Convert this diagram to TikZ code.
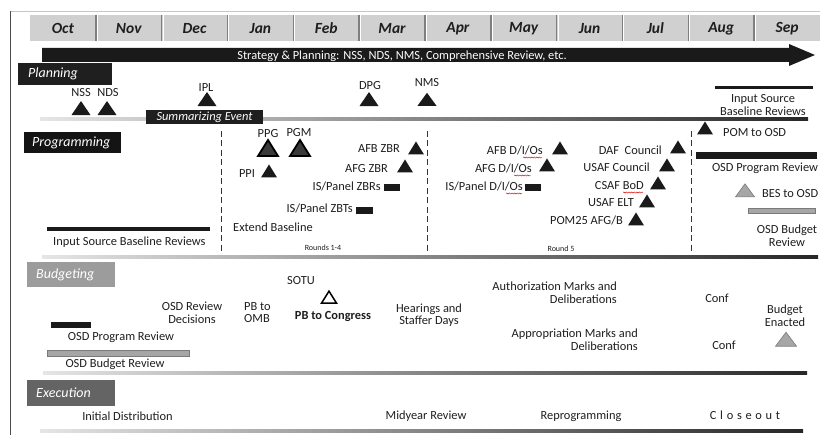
\documentclass[tikz,border=0pt]{standalone}
\usepackage{fontspec}
\setmainfont{Carlito}
\usetikzlibrary{shapes.geometric,decorations.pathmorphing}

\definecolor{monthfill}{HTML}{D0D0D0}
\definecolor{monthsep}{HTML}{7F7F7F}
\definecolor{inkblack}{HTML}{1A1A1A}
\definecolor{budgetgray}{HTML}{9C9C9C}
\definecolor{execgray}{HTML}{646464}
\definecolor{lightmark}{HTML}{A6A6A6}
\definecolor{markedge}{HTML}{7A7A7A}
\definecolor{deepgray}{HTML}{3A3A3A}
\definecolor{textgray}{HTML}{1E1E1E}

\newcommand\lblsize{\fontsize{12.4}{12.6}\selectfont}
\newcommand\smallsize{\fontsize{8}{9}\selectfont}

\begin{document}
\begin{tikzpicture}[x=1pt,y=-1pt,
  lbl/.style={font=\lblsize, text=textgray, inner sep=0},
  lbl2/.style={lbl, align=center},
  month/.style={font=\fontsize{15.5}{16}\selectfont\bfseries\itshape, inner sep=0, text=textgray},
  secbox/.style={anchor=north west, text=white, font=\fontsize{14}{15}\selectfont\itshape,
                 align=left, inner ysep=0},
  tri/.style={isosceles triangle, isosceles triangle stretches, shape border rotate=90,
              fill=inkblack, inner sep=0, minimum width=16, minimum height=13},
  bigtri/.style={tri, fill=deepgray, draw=black, line width=1.8pt, minimum width=20, minimum height=16},
  greytri/.style={tri, fill=lightmark, draw=markedge, line width=0.6pt},
  opentri/.style={tri, fill=white, draw=black, line width=1.5pt, minimum width=15, minimum height=12},
  blk/.style={fill=inkblack, inner sep=0},
  graybar/.style={fill=lightmark, draw=markedge, line width=0.6pt},
  divider/.style={left color=gray!20, right color=black!85},
  roundsep/.style={draw=black!80, line width=0.7pt, dash pattern=on 6pt off 3.5pt},
  squig/.style={red!85!black, line width=0.45pt, decorate,
                decoration={snake, amplitude=0.55pt, segment length=2.6pt}}
]
\useasboundingbox (0,0) rectangle (820,435);

% outer frame
\draw[gray!45, line width=0.8pt] (10,11) -- (820,11);
\draw[black!70, line width=0.8pt] (10,11) -- (10,435);

% month header
\fill[monthfill] (30,15) rectangle (820,41);
\foreach \i in {1,...,11} {
  \draw[monthsep, line width=1.4pt] ({30+65.83*\i},15) -- ++(0,26);
  \draw[white, line width=0.8pt] ({31.3+65.83*\i},15) -- ++(0,26);
}
\foreach \m [count=\i from 0] in {Oct,Nov,Dec,Jan,Feb,Mar,Apr,May,Jun,Jul,Aug,Sep}
  \node[month] (m\i) at ({30+65.83*(\i+0.5)},28.5) {\m};

% strategy arrow
\fill[inkblack] (42,48) -- (789,48) -- (789,44) -- (815,55) -- (789,66) -- (789,62) -- (42,62) -- cycle;
\node[lbl, text=white, anchor=base] (strategy) at (402,59.5)
  {Strategy \& Planning: NSS, NDS, NMS, Comprehensive Review, etc.};

% ---------------- Planning ----------------
\node[secbox, fill=black!88, minimum width=94, minimum height=22, text width=74, inner xsep=10]
  (planning) at (18,63) {Planning};

\node[lbl, anchor=base] (nssL) at (81,97) {NSS};
\node[tri, minimum width=19, minimum height=14] (nss) at (81,110) {};
\node[lbl, anchor=base] (ndsL) at (108,97) {NDS};
\node[tri, minimum width=19, minimum height=14] (nds) at (107,110) {};
\node[lbl, anchor=base] (iplL) at (206,92) {IPL};
\node[tri, minimum width=19, minimum height=14] (ipl) at (207,101) {};
\node[lbl, anchor=base] (dpgL) at (370,90) {DPG};
\node[tri, minimum width=19, minimum height=14] (dpg) at (369,101) {};
\node[lbl, anchor=base] (nmsL) at (427,87) {NMS};
\node[tri, minimum width=19, minimum height=13] (nms) at (427,101) {};

\draw[inkblack, line width=3pt] (715,88) -- (813,88);
\node[lbl2] (isbrTop) at (763,105) {Input Source\\Baseline Reviews};

\shade[divider] (40,118) rectangle (808,121);
\node[fill=black!88, text=white, font=\fontsize{12.4}{13}\selectfont\itshape,
      minimum width=117, minimum height=14, inner sep=0] (summ) at (204.5,117) {Summarizing Event};

% ---------------- Programming ----------------
\node[secbox, fill=black!92, minimum width=97, minimum height=21, text width=81, inner xsep=8]
  (programming) at (24,132) {Programming};

\draw[roundsep] (221,131) -- (221,253);
\draw[roundsep] (427,131) -- (427,253);
\draw[roundsep] (691,131) -- (691,253);

% rounds 1-4
\node[lbl, anchor=base] (ppgL) at (268,138) {PPG};
\node[lbl, anchor=base] (pgmL) at (299,137) {PGM};
\node[bigtri] (ppg) at (268,150.5) {};
\node[bigtri] (pgm) at (300,150.5) {};
\node[lbl, anchor=base] (ppiL) at (247,178) {PPI};
\node[tri] (ppi) at (269,173) {};
\node[lbl, anchor=base east] (afbzL) at (400,153) {AFB ZBR};
\node[tri] (afbz) at (416,150) {};
\node[lbl, anchor=base east] (afgzL) at (388,173) {AFG ZBR};
\node[tri] (afgz) at (405,168) {};
\node[lbl, anchor=base east] (iszbrL) at (381,191) {IS/Panel ZBRs};
\node[blk, minimum width=16, minimum height=7] (iszbr) at (391.5,187.5) {};
\node[lbl, anchor=base east] (iszbtL) at (353,213) {IS/Panel ZBTs};
\node[blk, minimum width=17, minimum height=7] (iszbt) at (364,210.5) {};
\node[lbl, anchor=base west] (extL) at (233,232) {Extend Baseline};
\node[font=\smallsize, inner sep=0, text=textgray, anchor=base] (r14) at (323,251) {Rounds 1-4};

\draw[inkblack, line width=4pt] (47,229.5) -- (210,229.5);
\node[lbl, anchor=base west] (isbrL) at (53,246) {Input Source Baseline Reviews};

% round 5
\node[lbl, anchor=base east] (afbdL) at (543,155) {AFB D/I/Os};
\node[tri] (afbd) at (560,150) {};
\node[lbl, anchor=base east] (afgdL) at (532,173) {AFG D/I/Os};
\node[tri] (afgd) at (547,167) {};
\node[lbl, anchor=base east] (isdL) at (523,191) {IS/Panel D/I/Os};
\node[blk, minimum width=16, minimum height=7] (isd) at (533,187.5) {};
\node[lbl, anchor=base east] (dafL) at (662,155) {DAF\ \ Council};
\node[tri] (daf) at (678,149) {};
\node[lbl, anchor=base east] (usafcL) at (650,172) {USAF Council};
\node[tri] (usafc) at (667,167) {};
\node[lbl, anchor=base east] (csafL) at (644,190) {CSAF BoD};
\node[tri] (csaf) at (658,185) {};
\node[lbl, anchor=base east] (eltL) at (634,207) {USAF ELT};
\node[tri] (elt) at (647,203) {};
\node[lbl, anchor=base east] (pom25L) at (623,225) {POM25 AFG/B};
\node[tri] (pom25) at (636,221) {};
\node[font=\smallsize, inner sep=0, text=textgray, anchor=base] (r5) at (561,252) {Round 5};

% spelling marks under words
\draw[squig] (523,157.5) -- (542,157.5);
\draw[squig] (514,175.5) -- (531,175.5);
\draw[squig] (506,193.5) -- (522,193.5);
\draw[squig] (623,192.5) -- (643,192.5);

% after round 5
\node[tri] (pomosd) at (705,130) {};
\node[lbl, anchor=base west] (pomosdL) at (723,137) {POM to OSD};
\fill[inkblack] (696,152) rectangle (817,159);
\node[lbl, anchor=base] (opr1) at (765,172) {OSD Program Review};
\node[greytri, minimum width=19, minimum height=13] (bes) at (745,192) {};
\node[lbl, anchor=base west] (besL) at (762,198) {BES to OSD};
\path[graybar] (748,208) rectangle (815,213);
\node[lbl2] (obr1) at (787,235.5) {OSD Budget\\Review};

\shade[divider] (42,255.5) rectangle (818,258.5);

% ---------------- Budgeting ----------------
\node[secbox, fill=budgetgray, minimum width=88, minimum height=25, text width=70, inner xsep=9]
  (budgeting) at (27,262) {Budgeting};

\node[lbl, anchor=base] (sotu) at (301,285) {SOTU};
\node[opentri] (pbc) at (329,299) {};
\node[lbl, anchor=base, font=\lblsize\bfseries] (pbcL) at (333,320) {PB to Congress};
\node[lbl2] (osdrd) at (192,312.5) {OSD Review\\Decisions};
\node[lbl, align=left, anchor=west] (pbomb) at (244,312.5) {PB to\\OMB};
\node[lbl2] (hear) at (429,315) {Hearings and\\Staffer Days};
\node[lbl, align=right, anchor=east] (auth) at (617,293) {Authorization Marks and\\Deliberations};
\node[lbl, align=right, anchor=east] (approp) at (638,339.5) {Appropriation Marks and\\Deliberations};
\node[lbl, anchor=base] (conf1) at (717,303) {Conf};
\node[lbl, anchor=base] (conf2) at (724,350) {Conf};
\node[lbl2] (enact) at (785,316) {Budget\\Enacted};
\node[greytri, minimum width=21, minimum height=14] (enactT) at (786,341) {};

\fill[inkblack] (51,322) rectangle (91,328);
\node[lbl, anchor=base] (opr2) at (121,341) {OSD Program Review};
\path[graybar] (47,350) rectangle (189,356);
\node[lbl, anchor=base] (obr2) at (115,368) {OSD Budget Review};

\shade[divider] (43,371.5) rectangle (807,374.5);

% ---------------- Execution ----------------
\node[secbox, fill=execgray, minimum width=88, minimum height=26, text width=70, inner xsep=9]
  (execution) at (27,380) {Execution};

\node[lbl, anchor=base] (initd) at (127.5,421) {Initial Distribution};
\node[lbl, anchor=base] (midyr) at (426,420) {Midyear Review};
\node[lbl, anchor=base] (reprog) at (581,420) {Reprogramming};
\node[lbl, anchor=base, font=\lblsize\addfontfeature{LetterSpace=30}] (close) at (745,420) {Closeout};

\shade[divider] (40,429.5) rectangle (803,432.5);
\end{tikzpicture}
\end{document}
